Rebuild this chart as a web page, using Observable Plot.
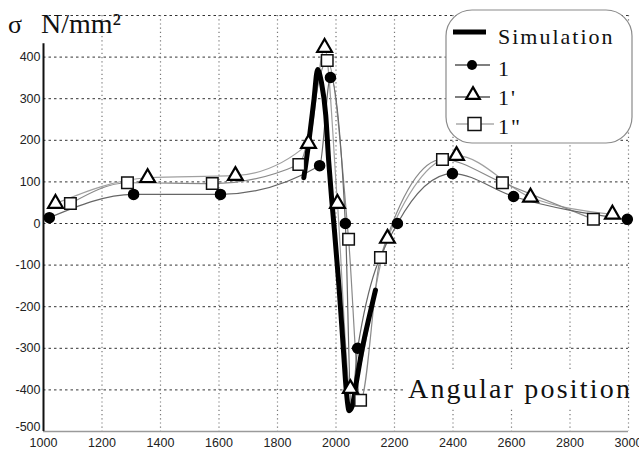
<!DOCTYPE html>
<html>
<head>
<meta charset="utf-8">
<script src="https://cdn.jsdelivr.net/npm/d3@7"></script>
<script src="https://cdn.jsdelivr.net/npm/@observablehq/plot@0.6"></script>
<style>
  body { margin: 0; background: #fff; }
  #chart { position: relative; width: 639px; height: 450px; }
</style>
</head>
<body>
<div id="chart"></div>
<script>
// ---- data ----
const xTicks = [1000, 1200, 1400, 1600, 1800, 2000, 2200, 2400, 2600, 2800, 3000];
const yTicks = [-400, -300, -200, -100, 0, 100, 200, 300, 400];
const yBottomTick = [-500];
const yGridLines = [-400, -300, -200, -100, 0, 100, 200, 300, 400, 500];
const xGridLines = [1200, 1400, 1600, 1800, 2000, 2200, 2400, 2600, 2800, 3000];

// Simulation (thick black line)
const simX = [1890, 1906, 1925, 1937, 1950, 1965, 1975, 1985, 1995, 2010, 2025, 2035, 2045, 2055, 2070, 2090, 2115, 2135];
const simY = [110, 190, 300, 370, 340, 260, 150, 60, -20, -150, -300, -400, -450, -440, -380, -300, -220, -160];

// Series "1" (filled circles)
const s1X = [1020, 1308, 1605, 1944, 1981, 2032, 2052, 2074, 2210, 2398, 2607, 2996];
const s1Y = [14, 70, 70, 139, 351, 0, -445, -300, 0, 120, 65, 10];
const s1MarkX = [1020, 1308, 1605, 1944, 1981, 2032, 2074, 2210, 2398, 2607, 2996];
const s1MarkY = [14, 70, 70, 139, 351, 0, -300, 0, 120, 65, 10];

// Series "1'" (open triangles)
const s2X = [1041, 1356, 1656, 1906, 1961, 2005, 2049, 2176, 2412, 2665, 2945];
const s2Y = [48, 110, 115, 192, 423, 48, -397, -36, 163, 63, 22];

// Series "1''" (open squares)
const s3X = [1092, 1287, 1577, 1873, 1970, 2043, 2084, 2152, 2364, 2569, 2880];
const s3Y = [48, 98, 96, 142, 392, -38, -425, -82, 154, 98, 10];

const zip = (xs, ys) => xs.map((x, i) => ({x, y: ys[i]}));
const sim = zip(simX, simY);
const s1 = zip(s1X, s1Y), s1m = zip(s1MarkX, s1MarkY);
const s2 = zip(s2X, s2Y), s3 = zip(s3X, s3Y);

const plot = Plot.plot({
  width: 639,
  height: 450,
  marginLeft: 43,
  marginRight: 11,
  marginTop: 15,
  marginBottom: 19,
  style: {fontSize: "12px", background: "#fff", color: "#222"},
  x: {domain: [1000, 3000], label: null},
  y: {domain: [-500, 500], label: null},
  marks: [
    Plot.ruleY(yGridLines, {stroke: "#333", strokeDasharray: "2.5,3", strokeWidth: 1}),
    Plot.ruleX(xGridLines, {stroke: "#777", strokeDasharray: "1.2,3", strokeWidth: 1.2}),
    Plot.ruleY([-500], {stroke: "#9a9a9a", strokeWidth: 1.5}),
    Plot.ruleX([1000], {y1: -500, y2: 432, stroke: "#111", strokeWidth: 2}),
    Plot.axisX({ticks: xTicks, tickSize: 0, tickPadding: 7, tickFormat: d => String(d), fontSize: 12.5, fontFamily: "Liberation Sans", label: null}),
    Plot.axisY({ticks: yTicks, tickSize: 0, tickPadding: 3, tickFormat: d => String(d), fontSize: 12.5, fontFamily: "Liberation Sans", label: null}),
    Plot.axisY({ticks: yBottomTick, tickSize: 0, tickPadding: 3, dy: -5, tickFormat: d => String(d), fontSize: 12.5, fontFamily: "Liberation Sans", label: null}),
    Plot.line(s2, {x: "x", y: "y", stroke: "#a0a0a0", strokeWidth: 1.2, curve: "monotone-x"}),
    Plot.line(s3, {x: "x", y: "y", stroke: "#8a8a8a", strokeWidth: 1.2, curve: "monotone-x"}),
    Plot.line(s1, {x: "x", y: "y", stroke: "#666", strokeWidth: 1.2, curve: "monotone-x"}),
    Plot.line(sim, {x: "x", y: "y", stroke: "#000", strokeWidth: 5, strokeLinejoin: "round", curve: "monotone-x"}),
    Plot.dot(s2, {x: "x", y: "y", symbol: "triangle", r: 5.5, fill: "#fff", stroke: "#000", strokeWidth: 2.2}),
    Plot.dot(s3, {x: "x", y: "y", symbol: "square", r: 6.5, fill: "#fff", stroke: "#111", strokeWidth: 1.5}),
    Plot.dot(s1m, {x: "x", y: "y", r: 5, fill: "#000", stroke: "#000"})
  ]
});
document.getElementById("chart").appendChild(plot);

// ---- decorations: axis title, x label, legend ----
const svg = d3.select(plot);
const SERIF = "Liberation Serif";
const addText = (g, x, y, size, str) =>
  g.append("text").attr("x", x).attr("y", y)
   .attr("font-family", SERIF).attr("font-size", size)
   .attr("fill", "#111").text(str);
const deco = svg.append("g").attr("text-anchor", "start").attr("font-family", SERIF);
addText(deco, 8, 33, 26, "σ");
addText(deco, 41, 33, 28, "N/mm²");
deco.append("rect").attr("x", 406).attr("y", 372).attr("width", 222).attr("height", 36).attr("fill", "#fff");
addText(deco, 408, 398, 28, "Angular position").attr("letter-spacing", 2.2);

const lg = svg.append("g").attr("text-anchor", "start").attr("font-family", SERIF);
lg.append("rect").attr("x", 446).attr("y", 10).attr("width", 186).attr("height", 133).attr("rx", 26)
  .attr("fill", "#fff").attr("stroke", "#8a8a8a").attr("stroke-width", 1.2);
const items = [
  {label: "Simulation", ly: 32, ty: 44},
  {label: "1", ly: 65, ty: 76},
  {label: "1'", ly: 95, ty: 105},
  {label: "1\"", ly: 124, ty: 134}
];
// samples
lg.append("line").attr("x1", 453).attr("x2", 486).attr("y1", items[0].ly).attr("y2", items[0].ly).attr("stroke", "#000").attr("stroke-width", 5);
lg.append("line").attr("x1", 455).attr("x2", 490).attr("y1", items[1].ly).attr("y2", items[1].ly).attr("stroke", "#555").attr("stroke-width", 1.5);
lg.append("circle").attr("cx", 472).attr("cy", items[1].ly).attr("r", 5).attr("fill", "#000");
lg.append("line").attr("x1", 455).attr("x2", 490).attr("y1", items[2].ly + 2).attr("y2", items[2].ly + 2).attr("stroke", "#555").attr("stroke-width", 1.5);
lg.append("path").attr("d", d3.symbol(d3.symbolTriangle, 80)()).attr("transform", `translate(473,${items[2].ly})`)
  .attr("fill", "#fff").attr("stroke", "#000").attr("stroke-width", 2.2);
lg.append("line").attr("x1", 456).attr("x2", 494).attr("y1", items[3].ly).attr("y2", items[3].ly).attr("stroke", "#aaa").attr("stroke-width", 1.5);
lg.append("rect").attr("x", 468).attr("y", items[3].ly - 6.5).attr("width", 13).attr("height", 13)
  .attr("fill", "#fff").attr("stroke", "#111").attr("stroke-width", 1.5);
items.forEach(d => addText(lg, 498, d.ty, 22, d.label).attr("letter-spacing", 2));
</script>
</body>
</html>
